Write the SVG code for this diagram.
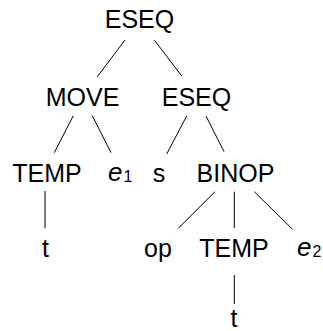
<svg xmlns="http://www.w3.org/2000/svg" width="323" height="331" viewBox="0 0 323 331">
<style>
text{font-family:"Liberation Sans",Arial,sans-serif;font-size:25px;fill:#000;text-anchor:middle}
.it{font-style:italic;font-size:26px;text-anchor:start}
.sub{font-size:16px;font-style:normal}
line{stroke:#000;stroke-width:1}
</style>
<rect width="323" height="331" fill="#fff"/>
<g id="edges">
<line x1="125" y1="40" x2="97.3" y2="76.7"/>
<line x1="154.3" y1="40" x2="181.7" y2="76"/>
<line x1="73.3" y1="115.7" x2="54.3" y2="152.7"/>
<line x1="92.3" y1="115.7" x2="111" y2="152.7"/>
<line x1="186.7" y1="116" x2="166.7" y2="154"/>
<line x1="206" y1="116" x2="224" y2="151.7"/>
<line x1="45" y1="191" x2="45" y2="228.3"/>
<line x1="215" y1="191.7" x2="178.3" y2="228.3"/>
<line x1="234.3" y1="191.7" x2="234.3" y2="228"/>
<line x1="254.3" y1="191.7" x2="292.3" y2="229"/>
<line x1="234.3" y1="275" x2="234.3" y2="304"/>
</g>
<g id="eseq1"><text x="139.5" y="28">ESEQ</text></g>
<g id="move"><text x="82.5" y="106">MOVE</text></g>
<g id="eseq2"><text x="196.5" y="106">ESEQ</text></g>
<g id="temp1"><text x="47" y="182">TEMP</text></g>
<g id="e1"><text class="it" x="108" y="181">e<tspan class="sub" dx="1" dy="1">1</tspan></text></g>
<g id="s"><text x="159" y="182">s</text></g>
<g id="binop"><text x="235.5" y="182">BINOP</text></g>
<g id="t1"><text x="45.5" y="257">t</text></g>
<g id="op"><text x="158" y="257">op</text></g>
<g id="temp2"><text x="234" y="257">TEMP</text></g>
<g id="e2"><text class="it" x="297" y="256">e<tspan class="sub" dx="1" dy="1">2</tspan></text></g>
<g id="t2"><text x="234" y="327">t</text></g>
</svg>
